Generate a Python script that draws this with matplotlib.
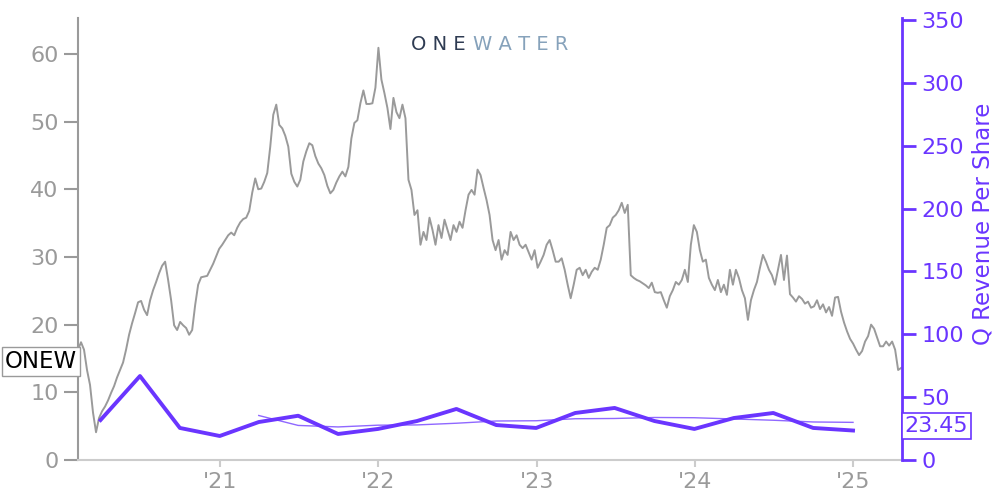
import numpy as np
import pandas as pd
import matplotlib
matplotlib.use("Agg")
import matplotlib.pyplot as plt
import matplotlib.dates as mdates

# ONEW share price, roughly weekly closes
price = [
    16.3, 17.4, 16.3, 13.3, 11.1, 7.0, 4.1, 6.2, 7.2, 7.9,
    8.8, 9.9, 10.9, 12.2, 13.3, 14.4, 16.3, 18.5, 20.2, 21.7,
    23.3, 23.5, 22.2, 21.4, 23.6, 25.1, 26.3, 27.6, 28.7, 29.3,
    26.6, 23.6, 19.9, 19.2, 20.4, 19.9, 19.5, 18.5, 19.2, 22.9,
    25.9, 27.0, 27.1, 27.2, 28.1, 29.0, 30.1, 31.2, 31.8, 32.5,
    33.2, 33.6, 33.2, 34.3, 35.1, 35.6, 35.8, 36.8, 39.5, 41.6,
    40.0, 40.1, 41.1, 42.4, 46.3, 51.0, 52.5, 49.5, 49.0, 47.9,
    46.3, 42.3, 41.1, 40.4, 41.4, 44.1, 45.6, 46.8, 46.5, 44.9,
    43.8, 43.1, 42.1, 40.5, 39.4, 39.9, 41.0, 41.9, 42.6, 41.9,
    43.3, 47.5, 49.8, 50.2, 52.7, 54.6, 52.6, 52.6, 52.7, 55.0,
    60.9, 56.2, 54.2, 52.0, 48.9, 53.5, 51.4, 50.5, 52.5, 50.5,
    41.4, 39.9, 36.2, 36.9, 31.8, 33.7, 32.5, 35.8, 34.0, 31.8,
    34.7, 32.8, 35.5, 34.0, 32.5, 34.7, 33.7, 35.2, 34.3, 36.9,
    39.2, 39.9, 39.2, 42.9, 42.1, 40.2, 38.4, 36.2, 32.5, 31.0,
    32.5, 29.6, 31.0, 30.3, 33.7, 32.5, 33.2, 31.8, 31.3, 31.8,
    30.7, 29.6, 31.0, 28.4, 29.3, 30.3, 31.8, 32.5, 31.0, 29.3,
    29.3, 29.8, 28.1, 25.9, 23.9, 25.9, 28.1, 28.4, 27.3, 28.1,
    26.9, 27.8, 28.4, 28.1, 29.6, 31.8, 34.3, 34.7, 35.8, 36.2,
    36.9, 38.0, 36.5, 37.7, 27.3, 26.9, 26.6, 26.4, 26.1, 25.8,
    25.4, 26.2, 24.8, 24.7, 24.8, 23.6, 22.5, 24.2, 25.1, 26.3,
    25.9, 26.6, 28.1, 26.3, 31.8, 34.7, 33.7, 31.0, 29.3, 29.6,
    26.9, 25.9, 25.1, 26.6, 24.8, 25.9, 24.4, 28.1, 25.9, 28.1,
    26.9, 25.1, 23.9, 20.7, 23.6, 25.1, 26.3, 28.4, 30.3, 29.3,
    28.1, 27.3, 25.9, 28.1, 30.3, 26.6, 30.2, 24.5, 24.0, 23.4,
    24.2, 23.8, 23.1, 23.4, 22.5, 22.7, 23.6, 22.3, 23.0, 21.8,
    22.6, 21.3, 24.0, 24.1, 21.9, 20.3, 19.0, 17.9, 17.2, 16.3,
    15.5, 16.1, 17.5, 18.3, 20.0, 19.4, 18.1, 16.8, 16.8, 17.5,
    16.9, 17.5, 16.3, 13.3, 13.6,
]
price_dates = pd.date_range("2020-02-08", "2025-04-21", periods=len(price))

# quarterly revenue per share
rev_quarters = pd.date_range("2020-03-31", "2024-12-31", freq="QE")
rev_per_share = [31.8, 66.8, 25.5, 19.1, 30.2, 35.2, 20.7, 24.7, 31.0, 40.6,
                 27.8, 25.5, 37.4, 41.4, 31.0, 24.7, 33.4, 37.4, 25.5, 23.45]
# trailing 4-quarter average, shown from Q1 '21 on
rev_avg = pd.Series(rev_per_share, index=rev_quarters).rolling(4).mean().iloc[4:]

ticker = "ONEW"
last_rev = "23.45"

GRAY = "#9a9a9a"
PURPLE = "#6a35ff"

fig = plt.figure(figsize=(10, 5), dpi=100)
ax = fig.add_axes([0.078, 0.08, 0.824, 0.884])
ax2 = ax.twinx()

ax.plot(price_dates, price, color=GRAY, lw=1.4, zorder=2)
ax2.plot(rev_quarters, rev_per_share, color=PURPLE, lw=2.8)
ax2.plot(rev_avg.index, rev_avg.values, color=PURPLE, lw=1.0, alpha=0.75)

ax.set_xlim(pd.Timestamp("2020-02-08"), pd.Timestamp("2025-04-23"))
ax.set_ylim(0, 65.3)
ax2.set_ylim(0, 351.6)

ax.xaxis.set_major_locator(mdates.YearLocator())
ax.xaxis.set_major_formatter(mdates.DateFormatter("'%y"))
ax.set_yticks(range(0, 61, 10))
ax2.set_yticks(range(0, 351, 50))

for s in ["top", "right"]:
    ax.spines[s].set_visible(False)
ax.spines["left"].set_color(GRAY)
ax.spines["left"].set_linewidth(1.5)
ax.spines["bottom"].set_color("#cccccc")
ax.spines["bottom"].set_linewidth(1.5)
for s in ["top", "left", "bottom"]:
    ax2.spines[s].set_visible(False)
ax2.spines["right"].set_color(PURPLE)
ax2.spines["right"].set_linewidth(2)

ax.tick_params(axis="y", colors=GRAY, labelsize=16, length=10, width=1.5, pad=4)
ax.tick_params(axis="x", colors="#cccccc", labelcolor=GRAY, labelsize=16, length=5, width=1.5, pad=4)
ax2.tick_params(axis="y", colors=PURPLE, labelsize=16, length=10, width=2, pad=4)
ax2.set_ylabel("Q Revenue Per Share", color=PURPLE, fontsize=16.5)
ax2.yaxis.set_label_coords(1.084, 0.535)

ax.text(-0.001, 14.55, ticker, transform=ax.get_yaxis_transform(), ha="right", va="center",
        fontsize=16.5, color="black",
        bbox=dict(boxstyle="square,pad=0.12", fc="white", ec=GRAY, lw=1))
ax2.text(1.003, 27.0, last_rev, transform=ax2.get_yaxis_transform(), ha="left", va="center",
         fontsize=16, color=PURPLE,
         bbox=dict(boxstyle="square,pad=0.12", fc="white", ec=PURPLE, lw=1.2))

# logo
fig.text(0.466, 0.912, "O N E", color="#2e3b52", fontsize=14, ha="right", va="center")
fig.text(0.473, 0.912, "W A T E R", color="#86a2bb", fontsize=14, ha="left", va="center")

fig.savefig("out.png", dpi=100)
